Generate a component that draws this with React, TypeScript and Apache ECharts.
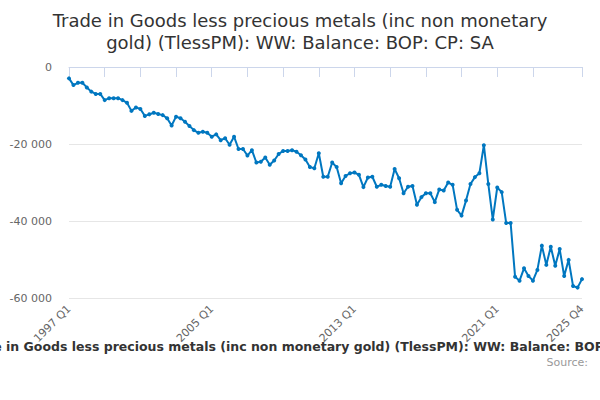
import { useRef, useEffect } from 'react';
import * as echarts from 'echarts';

const TITLE = 'Trade in Goods less precious metals (inc non monetary\ngold) (TlessPM): WW: Balance: BOP: CP: SA';
const SERIES_NAME = 'Trade in Goods less precious metals (inc non monetary gold) (TlessPM): WW: Balance: BOP: CP: SA';

// 1997 Q1 .. 2025 Q4
const quarters: string[] = [];
for (let y = 1997; y <= 2025; y++) {
  for (let q = 1; q <= 4; q++) quarters.push(`${y} Q${q}`);
}

// balance, £ million
const balance = [
  -2950, -4700, -4100, -4100, -5300, -6400, -7000, -7000,
  -8600, -8100, -8100, -8100, -8600, -9300, -11400, -10500,
  -10900, -12700, -12300, -11900, -12200, -12500, -13300, -15200,
  -12900, -13300, -14200, -15300, -16400, -17100, -16800, -17100,
  -18100, -17500, -19000, -18500, -20200, -18100, -21300, -21300,
  -23000, -21600, -24800, -24600, -23500, -25400, -24300, -22600,
  -21800, -21800, -21600, -22000, -22900, -24000, -26000, -26300,
  -22400, -28500, -28500, -24800, -26000, -30200, -28300, -27600,
  -27400, -28000, -31200, -28700, -28500, -31100, -30600, -30900,
  -31100, -26500, -28900, -32800, -31100, -30900, -35800, -33800,
  -32800, -32800, -35100, -31800, -32100, -30000, -30600, -37100,
  -38600, -34700, -30400, -28600, -27600, -20300, -30400, -39600,
  -31300, -32500, -40500, -40500, -54500, -55500, -52300, -54300,
  -55500, -52700, -46400, -51400, -46700, -51600, -47300, -54300,
  -50100, -56900, -57300, -55100,
];

const FONT = 'DejaVu Sans, sans-serif';
const LAST = quarters.length - 1;

const fmt = (v: number) => String(v).replace(/\B(?=(\d{3})+(?!\d))/g, ' ');

export default function App() {
  const chartRef = useRef<HTMLDivElement>(null);

  useEffect(() => {
    if (!chartRef.current) return;
    const chart = echarts.init(chartRef.current, undefined, { renderer: 'svg' });

    chart.setOption({
      animation: false,
      textStyle: { fontFamily: FONT },
      title: {
        text: TITLE,
        left: 'center',
        top: 4,
        textStyle: { fontSize: 18, fontWeight: 'normal', color: '#333', lineHeight: 22, fontFamily: FONT },
      },
      grid: { left: 69, right: 18, top: 67, bottom: 102 },
      xAxis: {
        type: 'category',
        data: quarters,
        boundaryGap: false,
        axisLine: { lineStyle: { color: '#ccd6eb' } },
        axisTick: {
          length: 10,
          lineStyle: { color: '#ccd6eb' },
          interval: (i: number) => (i % 8 === 0 && i <= 104) || i === LAST,
        },
        axisLabel: {
          rotate: 45,
          margin: 9,
          fontSize: 11,
          color: '#666',
          interval: (i: number) => i % 32 === 0 || i === LAST,
        },
        splitLine: { show: false },
      },
      yAxis: {
        type: 'value',
        min: -60000,
        max: 0,
        interval: 20000,
        axisLine: { show: false },
        axisTick: { show: false },
        axisLabel: { fontSize: 11, color: '#666', margin: 17, formatter: fmt },
        splitLine: { lineStyle: { color: '#e6e6e6' } },
      },
      series: [
        {
          name: SERIES_NAME,
          type: 'line',
          data: balance,
          symbol: 'circle',
          symbolSize: 4,
          showAllSymbol: true,
          lineStyle: { color: '#0077c0', width: 2 },
          itemStyle: { color: '#0077c0' },
        },
      ],
      graphic: [
        {
          type: 'text',
          x: 311,
          y: 346,
          style: {
            text: SERIES_NAME,
            fontSize: 12.5,
            fontWeight: 'bold',
            fontFamily: FONT,
            fill: '#333',
            textAlign: 'center',
            textVerticalAlign: 'middle',
          },
        },
        {
          type: 'text',
          x: 588,
          y: 362,
          style: {
            text: 'Source:',
            fontSize: 11,
            fontFamily: FONT,
            fill: '#999',
            textAlign: 'right',
            textVerticalAlign: 'middle',
          },
        },
      ],
    });

    return () => chart.dispose();
  }, []);

  return (
    <div
      ref={chartRef}
      style={{ position: 'absolute', left: 0, top: 0, width: 600, height: 400 }}
    />
  );
}
